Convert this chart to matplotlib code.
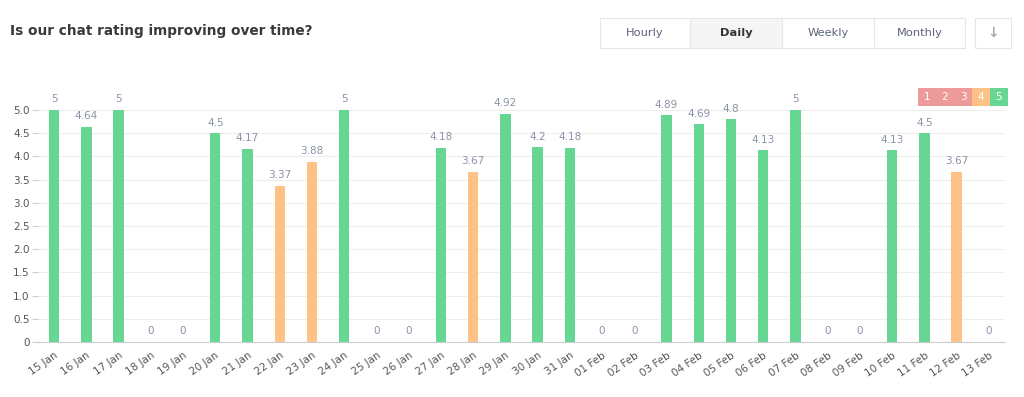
import matplotlib.pyplot as plt
from matplotlib.patches import Rectangle
from matplotlib.ticker import FuncFormatter

# ------------------------------------------------------------
# Dados: nota média diária do chat
# ------------------------------------------------------------
days = ["15 Jan", "16 Jan", "17 Jan", "18 Jan", "19 Jan", "20 Jan", "21 Jan",
        "22 Jan", "23 Jan", "24 Jan", "25 Jan", "26 Jan", "27 Jan", "28 Jan",
        "29 Jan", "30 Jan", "31 Jan", "01 Feb", "02 Feb", "03 Feb", "04 Feb",
        "05 Feb", "06 Feb", "07 Feb", "08 Feb", "09 Feb", "10 Feb", "11 Feb",
        "12 Feb", "13 Feb"]
ratings = [5, 4.64, 5, 0, 0, 4.5, 4.17, 3.37, 3.88, 5, 0, 0, 4.18, 3.67,
           4.92, 4.2, 4.18, 0, 0, 4.89, 4.69, 4.8, 4.13, 5, 0, 0, 4.13, 4.5,
           3.67, 0]
legend_labels = ["1", "2", "3", "4", "5"]

GREEN = "#68d693"
ORANGE = "#fec287"
RED = "#ec9a9a"
TEXT = "#555555"
VALUE = "#8a93a8"


def bar_color(v):
    if v >= 4:
        return GREEN
    if v >= 3:
        return ORANGE
    return RED


fig = plt.figure(figsize=(10.24, 3.97), dpi=100)
W, H = 1024, 397


def px(x, y):
    return x / W, 1 - y / H


ax = fig.add_axes([38 / W, 1 - 342 / H, (1005 - 38) / W, (342 - 110) / H])

xs = range(len(days))
ax.bar(xs, ratings, width=0.32, color=[bar_color(v) for v in ratings])
for x, v in zip(xs, ratings):
    label = "0" if v == 0 else f"{v:g}"
    ax.annotate(label, (x, v), xytext=(0, 4), textcoords="offset points",
                ha="center", va="bottom", fontsize=7.5, color=VALUE,
                annotation_clip=False)

ax.set_xlim(-0.5, len(days) - 0.5)
ax.set_ylim(0, 5)
ax.set_yticks([i * 0.5 for i in range(11)])
ax.yaxis.set_major_formatter(FuncFormatter(lambda v, _: "0" if v == 0 else f"{v:.1f}"))
ax.set_xticks(list(xs))
ax.set_xticklabels(days, rotation=35, ha="right", rotation_mode="anchor")
ax.tick_params(axis="x", length=0, labelsize=7.5, labelcolor=TEXT, pad=6)
ax.tick_params(axis="y", length=4, color="#cccccc", labelsize=7.5,
               labelcolor=TEXT, pad=2)
ax.grid(axis="y", color="#eeeeee", linewidth=0.8)
ax.set_axisbelow(True)
for s in ["top", "right", "left"]:
    ax.spines[s].set_visible(False)
ax.spines["bottom"].set_color("#cccccc")

# titulo
fig.text(*px(10, 31), "Is our chat rating improving over time?", fontsize=9.8,
         fontweight="bold", color="#3a3a3a", va="center")

# botoes de periodo
buttons = ["Hourly", "Daily", "Weekly", "Monthly"]
edges = [600, 690, 782, 874, 965]
for i, name in enumerate(buttons):
    x0, x1 = edges[i], edges[i + 1]
    fig.patches.append(Rectangle(px(x0, 48), (x1 - x0) / W, 30 / H,
                                 transform=fig.transFigure,
                                 facecolor="#f5f5f5" if name == "Daily" else "white",
                                 edgecolor="#e6e6e6", linewidth=0.8))
    fig.text(*px((x0 + x1) / 2, 33), name, ha="center", va="center",
             fontsize=8.2, color="#333333" if name == "Daily" else "#5b6478",
             fontweight="bold" if name == "Daily" else "normal")
fig.patches.append(Rectangle(px(975, 48), 36 / W, 30 / H, transform=fig.transFigure,
                             facecolor="white", edgecolor="#e6e6e6", linewidth=0.8))
fig.text(*px(993, 33), "\u2193", ha="center", va="center", fontsize=10,
         color="#aaaaaa", fontweight="bold")

# legenda de cores
for i, lab in enumerate(legend_labels):
    x0 = 918 + i * 18
    c = GREEN if lab == "5" else ORANGE if lab == "4" else RED
    fig.patches.append(Rectangle(px(x0, 106), 18 / W, 18 / H,
                                 transform=fig.transFigure, facecolor=c,
                                 edgecolor="none"))
    fig.text(*px(x0 + 9, 97), lab, ha="center", va="center", fontsize=7.5,
             color="white")

fig.savefig("out.png", dpi=100)
